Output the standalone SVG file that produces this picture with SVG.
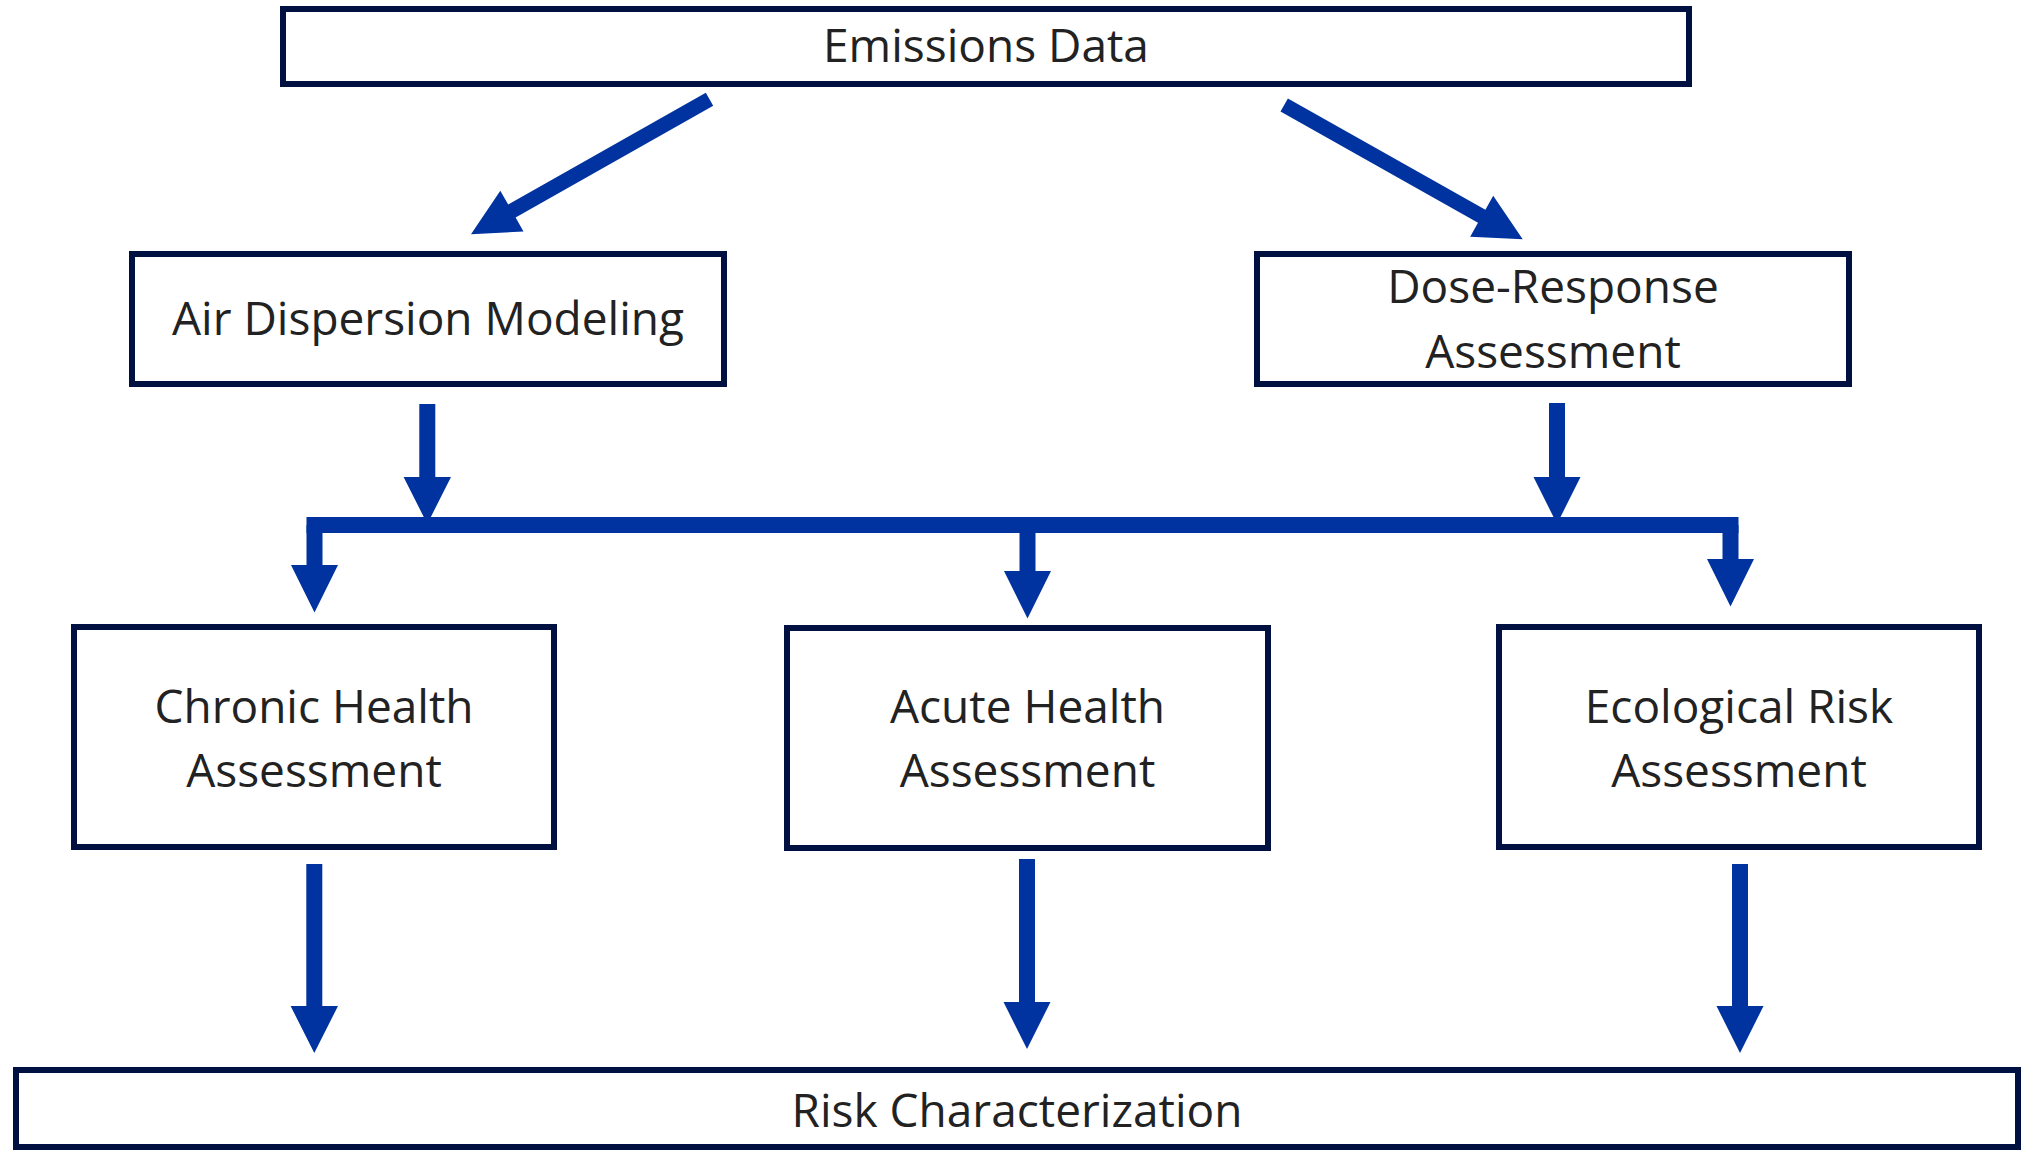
<svg xmlns="http://www.w3.org/2000/svg" width="2021" height="1150" viewBox="0 0 2021 1150">
  <style>
    .box { fill: #ffffff; stroke: #001040; stroke-width: 6; }
    .label { font-family: "Open Sans", "Noto Sans", "Liberation Sans", sans-serif; font-size: 46px; fill: #222222; text-anchor: middle; }
    .arrow { fill: #0033a0; stroke: none; }
  </style>
  <rect x="0" y="0" width="2021" height="1150" fill="#ffffff"/>

  <!-- connectors -->
  <g id="connectors">
    <!-- Emissions Data to Air Dispersion Modeling -->
    <polygon class="arrow" points="705.8,92.7 713.2,105.7 515.6,217.6 523.5,231.5 471,234.3 500.3,190.7 508.2,204.6"/>
    <!-- Emissions Data to Dose-Response Assessment -->
    <polygon class="arrow" points="1287.9,98.5 1485.4,209.7 1493.2,195.7 1522.7,239.3 1470.2,236.7 1478.0,222.7 1280.5,111.5"/>
    <!-- Air Dispersion Modeling down to the distribution bar -->
    <path class="arrow" d="M419.3,404 H435.3 V477 H451 L427.3,524 L403.6,477 H419.3 Z"/>
    <!-- Dose-Response Assessment down to the distribution bar -->
    <path class="arrow" d="M1549,403 H1565 V477 H1580.5 L1557,524 L1533.5,477 H1549 Z"/>
    <!-- distribution bar -->
    <rect class="arrow" x="306.5" y="517" width="1432" height="16"/>
    <!-- bar to the three assessments -->
    <path class="arrow" d="M306.5,525 H322.5 V565 H338 L314.5,612.5 L291,565 H306.5 Z"/>
    <path class="arrow" d="M1019.5,525 H1035.5 V571 H1051 L1027.5,618.5 L1004,571 H1019.5 Z"/>
    <path class="arrow" d="M1722.5,525 H1738.5 V559 H1754 L1730.5,606.5 L1707,559 H1722.5 Z"/>
    <!-- assessments down to Risk Characterization -->
    <path class="arrow" d="M306.3,864 H322.3 V1006 H338 L314.3,1053 L290.6,1006 H306.3 Z"/>
    <path class="arrow" d="M1019,859 H1035 V1002 H1050.5 L1027,1049 L1003.5,1002 H1019 Z"/>
    <path class="arrow" d="M1732,864 H1748 V1006 H1763.5 L1740,1053 L1716.5,1006 H1732 Z"/>
  </g>

  <g id="emissions-data">
    <rect class="box" x="283" y="9" width="1406" height="75"/>
    <text class="label" x="986" y="62">Emissions Data</text>
  </g>

  <g id="air-dispersion-modeling">
    <rect class="box" x="132" y="254" width="592" height="130"/>
    <text class="label" x="428" y="335">Air Dispersion Modeling</text>
  </g>

  <g id="dose-response-assessment">
    <rect class="box" x="1257" y="254" width="592" height="130"/>
    <text class="label" x="1553" y="303">Dose-Response</text>
    <text class="label" x="1553" y="368">Assessment</text>
  </g>

  <g id="chronic-health-assessment">
    <rect class="box" x="74" y="627" width="480" height="220"/>
    <text class="label" x="314" y="723">Chronic Health</text>
    <text class="label" x="314" y="787">Assessment</text>
  </g>

  <g id="acute-health-assessment">
    <rect class="box" x="787" y="628" width="481" height="220"/>
    <text class="label" x="1027.5" y="723">Acute Health</text>
    <text class="label" x="1027.5" y="787">Assessment</text>
  </g>

  <g id="ecological-risk-assessment">
    <rect class="box" x="1499" y="627" width="480" height="220"/>
    <text class="label" x="1739" y="723">Ecological Risk</text>
    <text class="label" x="1739" y="787">Assessment</text>
  </g>

  <g id="risk-characterization">
    <rect class="box" x="16" y="1070" width="2002" height="77"/>
    <text class="label" x="1017" y="1127">Risk Characterization</text>
  </g>
</svg>
